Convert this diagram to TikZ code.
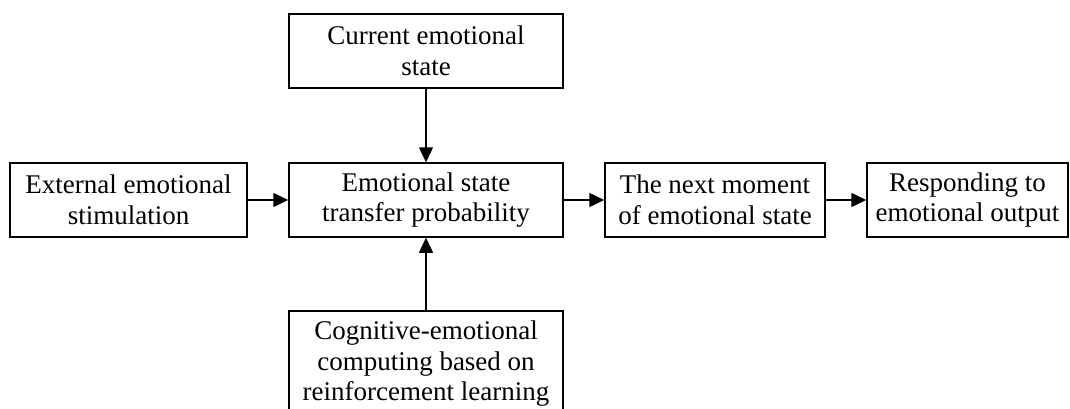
\documentclass[tikz,border=0pt]{standalone}
\usepackage{fontspec}
\setmainfont{Liberation Serif}
\usetikzlibrary{arrows.meta}
\begin{document}
\begin{tikzpicture}[x=1pt,y=-1pt,
  box/.style={draw=black, line width=1.5pt, align=center, inner sep=0pt,
    font=\fontsize{27}{30.5}\selectfont, minimum height=74pt},
  conn/.style={line width=1.5pt, -{Triangle[length=15pt,width=14pt]}}]
\useasboundingbox (0,0) rectangle (1070,408);
\clip (0,0) rectangle (1070,408);
\node[box, minimum width=274pt] (cur) at (426,51) {Current emotional\\state};
\node[box, minimum width=274pt] (trans) at (426,200) {Emotional state\\transfer probability};
\node[box, minimum width=237pt] (ext) at (128.5,200) {External emotional\\stimulation};
\node[box, minimum width=220pt] (next) at (715,200) {The next moment\\of emotional state};
\node[box, minimum width=201pt] (resp) at (967.5,200) {Responding to\\emotional output};
\node[box, minimum width=274pt, minimum height=0pt, inner ysep=10.5pt, anchor=north] (cog) at (426,310)
  {Cognitive-emotional\\computing based on\\reinforcement learning};
\draw[conn] (cur) -- (trans);
\draw[conn] (cog) -- (trans);
\draw[conn] (ext) -- (trans);
\draw[conn] (trans) -- (next);
\draw[conn] (next) -- (resp);
\end{tikzpicture}
\end{document}
